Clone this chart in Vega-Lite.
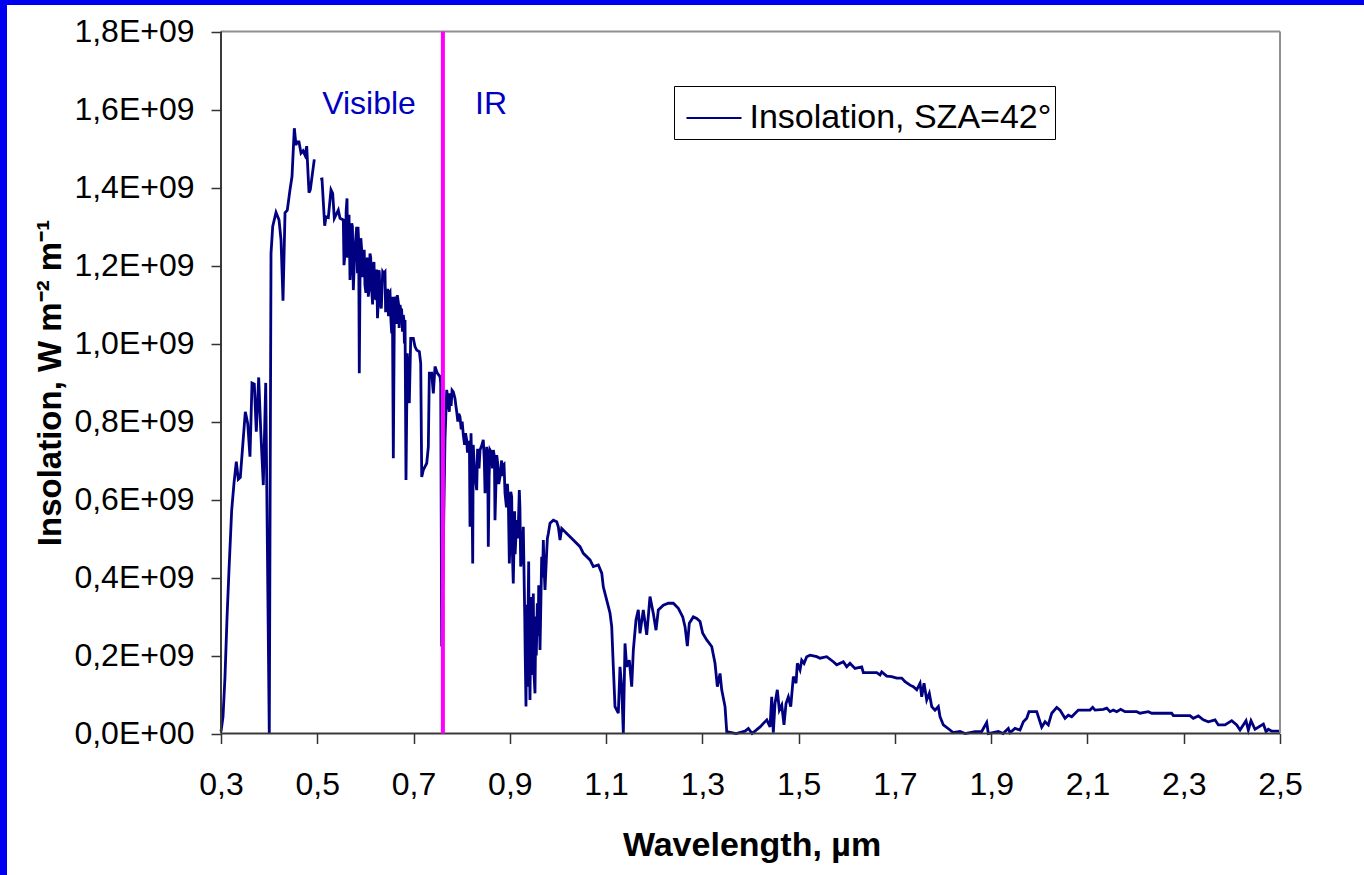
{
  "$schema": "https://vega.github.io/schema/vega-lite/v6.json",
  "width": 1357,
  "height": 870,
  "autosize": {"type": "none"},
  "padding": {"left": 7, "top": 5, "right": 0, "bottom": 0},
  "background": "#0000F0",
  "config": {
    "view": {"fill": "white", "stroke": null},
    "font": "Liberation Sans"
  },
  "layer": [
    {
      "data": {"values": [
        {"w":0.3000,"v":0.005e9},{"w":0.3042,"v":0.043e9},{"w":0.3083,"v":0.146e9},{"w":0.3125,"v":0.296e9},{"w":0.3166,"v":0.419e9},
        {"w":0.3222,"v":0.573e9},{"w":0.3270,"v":0.642e9},{"w":0.3318,"v":0.697e9},{"w":0.3359,"v":0.652e9},{"w":0.3401,"v":0.657e9},
        {"w":0.3505,"v":0.825e9},{"w":0.3555,"v":0.795e9},{"w":0.3602,"v":0.710e9},{"w":0.3644,"v":0.899e9},{"w":0.3692,"v":0.896e9},
        {"w":0.3733,"v":0.774e9},{"w":0.3783,"v":0.913e9},{"w":0.3825,"v":0.778e9},{"w":0.3879,"v":0.637e9},{"w":0.3929,"v":0.899e9},
        {"w":0.4003,"v":0},{"w":0.4039,"v":1.231e9},{"w":0.4074,"v":1.300e9},{"w":0.4143,"v":1.336e9},{"w":0.4205,"v":1.317e9},
        {"w":0.4247,"v":1.265e9},{"w":0.4288,"v":1.110e9},{"w":0.4330,"v":1.335e9},{"w":0.4377,"v":1.342e9},{"w":0.4433,"v":1.394e9},
        {"w":0.4475,"v":1.428e9},{"w":0.4523,"v":1.552e9},{"w":0.4558,"v":1.509e9},{"w":0.4585,"v":1.517e9},{"w":0.4620,"v":1.517e9},
        {"w":0.4662,"v":1.488e9},{"w":0.4704,"v":1.494e9},{"w":0.4745,"v":1.483e9},{"w":0.4780,"v":1.506e9},{"w":0.4828,"v":1.387e9},
        {"w":0.4855,"v":1.394e9},{"w":0.4938,"v":1.472e9},{"w":0.5000,"v":null},{"w":0.5063,"v":1.421e9},{"w":0.5098,"v":1.422e9},
        {"w":0.5154,"v":1.302e9},{"w":0.5181,"v":1.325e9},{"w":0.5229,"v":1.323e9},{"w":0.5285,"v":1.394e9},{"w":0.5320,"v":1.385e9},
        {"w":0.5354,"v":1.321e9},{"w":0.5437,"v":1.342e9},{"w":0.5472,"v":1.321e9},{"w":0.5541,"v":1.317e9},{"w":0.5555,"v":1.201e9},
        {"w":0.5618,"v":1.372e9},{"w":0.5645,"v":1.308e9},{"w":0.5680,"v":1.163e9},{"w":0.5715,"v":1.308e9},{"w":0.5749,"v":1.137e9},
        {"w":0.5784,"v":1.248e9},{"w":0.5819,"v":1.299e9},{"w":0.5846,"v":1.299e9},{"w":0.5873,"v":0.924e9},{"w":0.5923,"v":1.240e9},
        {"w":0.5956,"v":1.231e9},{"w":0.5990,"v":1.150e9},{"w":0.6027,"v":1.214e9},{"w":0.6060,"v":1.120e9},{"w":0.6095,"v":1.231e9},
        {"w":0.6130,"v":1.137e9},{"w":0.6178,"v":1.209e9},{"w":0.6220,"v":1.112e9},{"w":0.6251,"v":1.065e9},{"w":0.6282,"v":1.188e9},
        {"w":0.6303,"v":1.107e9},{"w":0.6359,"v":1.184e9},{"w":0.6407,"v":1.184e9},{"w":0.6442,"v":1.133e9},{"w":0.6511,"v":1.133e9},
        {"w":0.6546,"v":1.026e9},{"w":0.6580,"v":0.706e9},{"w":0.6615,"v":1.120e9},{"w":0.6663,"v":1.124e9},{"w":0.6719,"v":1.099e9},
        {"w":0.6754,"v":1.082e9},{"w":0.6787,"v":1.073e9},{"w":0.6823,"v":1.060e9},{"w":0.6843,"v":0.650e9},{"w":0.6870,"v":0.975e9},
        {"w":0.6912,"v":0.847e9},{"w":0.6941,"v":1.013e9},{"w":0.6995,"v":1.013e9},{"w":0.7030,"v":0.992e9},{"w":0.7066,"v":0.983e9},
        {"w":0.7120,"v":0.979e9},{"w":0.7149,"v":0.949e9},{"w":0.7170,"v":0.658e9},{"w":0.7203,"v":0.676e9},{"w":0.7274,"v":0.693e9},
        {"w":0.7307,"v":0.735e9},{"w":0.7328,"v":0.924e9},{"w":0.7377,"v":0.924e9},{"w":0.7411,"v":0.872e9},{"w":0.7446,"v":0.941e9},
        {"w":0.7493,"v":0.924e9},{"w":0.7550,"v":0.915e9},{"w":0.7564,"v":0.898e9},{"w":0.7585,"v":0.223e9},{"w":0.7653,"v":0.753e9},
        {"w":0.7689,"v":0.881e9},{"w":0.7743,"v":0.825e9},{"w":0.7757,"v":0.872e9},{"w":0.7826,"v":0.876e9},{"w":0.7861,"v":0.859e9},
        {"w":0.7897,"v":0.825e9},{"w":0.7965,"v":0.812e9},{"w":0.8034,"v":0.765e9},{"w":0.8104,"v":0.753e9},{"w":0.8138,"v":0.744e9},
        {"w":0.8173,"v":0.530e9},{"w":0.8194,"v":0.770e9},{"w":0.8229,"v":0.436e9},{"w":0.8256,"v":0.701e9},{"w":0.8312,"v":0.624e9},
        {"w":0.8345,"v":0.701e9},{"w":0.8381,"v":0.727e9},{"w":0.8449,"v":0.753e9},{"w":0.8485,"v":0.616e9},{"w":0.8520,"v":0.735e9},
        {"w":0.8553,"v":0.479e9},{"w":0.8589,"v":0.727e9},{"w":0.8657,"v":0.727e9},{"w":0.8692,"v":0.547e9},{"w":0.8728,"v":0.714e9},
        {"w":0.8796,"v":0.658e9},{"w":0.8865,"v":0.688e9},{"w":0.8900,"v":0.616e9},{"w":0.8969,"v":0.599e9},{"w":0.8990,"v":0.436e9},
        {"w":0.9039,"v":0.607e9},{"w":0.9072,"v":0.385e9},{"w":0.9143,"v":0.547e9},{"w":0.9197,"v":0.624e9},{"w":0.9226,"v":0.428e9},
        {"w":0.9280,"v":0.530e9},{"w":0.9336,"v":0.069e9},{"w":0.9392,"v":0.441e9},{"w":0.9419,"v":0.086e9},{"w":0.9488,"v":0.359e9},
        {"w":0.9523,"v":0.103e9},{"w":0.9571,"v":0.334e9},{"w":0.9627,"v":0.214e9},{"w":0.9662,"v":0.453e9},{"w":0.9696,"v":0.496e9},
        {"w":0.9731,"v":0.368e9},{"w":0.9800,"v":0.513e9},{"w":0.9835,"v":0.539e9},{"w":0.9904,"v":0.547e9},{"w":0.9974,"v":0.543e9},
        {"w":1.0008,"v":0.530e9},{"w":1.0043,"v":0.496e9},{"w":1.0078,"v":0.526e9},{"w":1.0182,"v":0.513e9},{"w":1.0319,"v":0.496e9},
        {"w":1.0458,"v":0.479e9},{"w":1.0527,"v":0.462e9},{"w":1.0666,"v":0.445e9},{"w":1.0735,"v":0.428e9},{"w":1.0839,"v":0.432e9},
        {"w":1.0910,"v":0.411e9},{"w":1.0942,"v":0.376e9},{"w":1.1013,"v":0.342e9},{"w":1.1081,"v":0.309e9},{"w":1.1117,"v":0.274e9},
        {"w":1.1150,"v":0.171e9},{"w":1.1185,"v":0.069e9},{"w":1.1254,"v":0.052e9},{"w":1.1289,"v":0.171e9},{"w":1.1324,"v":0.120e9},
        {"w":1.1358,"v":0},{"w":1.1393,"v":0.231e9},{"w":1.1428,"v":0.171e9},{"w":1.1482,"v":0.188e9},{"w":1.1532,"v":0.120e9},
        {"w":1.1566,"v":0.214e9},{"w":1.1621,"v":0.291e9},{"w":1.1669,"v":0.317e9},{"w":1.1705,"v":0.257e9},{"w":1.1773,"v":0.317e9},
        {"w":1.1844,"v":0.253e9},{"w":1.1912,"v":0.351e9},{"w":1.1981,"v":0.308e9},{"w":1.2037,"v":0.265e9},{"w":1.2085,"v":0.317e9},
        {"w":1.2189,"v":0.329e9},{"w":1.2293,"v":0.334e9},{"w":1.2397,"v":0.334e9},{"w":1.2501,"v":0.321e9},{"w":1.2592,"v":0.299e9},
        {"w":1.2640,"v":0.274e9},{"w":1.2688,"v":0.224e9},{"w":1.2729,"v":0.283e9},{"w":1.2812,"v":0.299e9},{"w":1.2883,"v":0.295e9},
        {"w":1.2952,"v":0.287e9},{"w":1.3007,"v":0.257e9},{"w":1.3091,"v":0.240e9},{"w":1.3194,"v":0.223e9},{"w":1.3263,"v":0.180e9},
        {"w":1.3311,"v":0.120e9},{"w":1.3367,"v":0.154e9},{"w":1.3402,"v":0.112e9},{"w":1.3471,"v":0.069e9},{"w":1.3506,"v":0.005e9},
        {"w":1.3700,"v":0},{"w":1.3887,"v":0.006e9},{"w":1.3956,"v":0.013e9},{"w":1.4033,"v":0},{"w":1.4199,"v":0.017e9},
        {"w":1.4268,"v":0.026e9},{"w":1.4339,"v":0.035e9},{"w":1.4406,"v":0.017e9},{"w":1.4441,"v":0.094e9},{"w":1.4474,"v":0.002e9},
        {"w":1.4509,"v":0.077e9},{"w":1.4557,"v":0.112e9},{"w":1.4599,"v":0.060e9},{"w":1.4649,"v":0.073e9},{"w":1.4696,"v":0.022e9},
        {"w":1.4738,"v":0.077e9},{"w":1.4786,"v":0.094e9},{"w":1.4836,"v":0.069e9},{"w":1.4890,"v":0.146e9},{"w":1.4946,"v":0.129e9},
        {"w":1.4973,"v":0.180e9},{"w":1.5029,"v":0.163e9},{"w":1.5064,"v":0.188e9},{"w":1.5112,"v":0.180e9},{"w":1.5168,"v":0.197e9},
        {"w":1.5237,"v":0.201e9},{"w":1.5305,"v":0.199e9},{"w":1.5376,"v":0.197e9},{"w":1.5444,"v":0.193e9},{"w":1.5583,"v":0.197e9},
        {"w":1.5721,"v":0.184e9},{"w":1.5791,"v":0.176e9},{"w":1.5929,"v":0.184e9},{"w":1.5999,"v":0.171e9},{"w":1.6067,"v":0.180e9},
        {"w":1.6171,"v":0.167e9},{"w":1.6310,"v":0.171e9},{"w":1.6344,"v":0.156e9},{"w":1.6622,"v":0.156e9},{"w":1.6691,"v":0.150e9},
        {"w":1.6726,"v":0.158e9},{"w":1.6830,"v":0.147e9},{"w":1.6934,"v":0.146e9},{"w":1.7038,"v":0.142e9},{"w":1.7142,"v":0.142e9},
        {"w":1.7211,"v":0.133e9},{"w":1.7315,"v":0.124e9},{"w":1.7383,"v":0.120e9},{"w":1.7454,"v":0.112e9},{"w":1.7522,"v":0.129e9},
        {"w":1.7557,"v":0.094e9},{"w":1.7605,"v":0.129e9},{"w":1.7661,"v":0.086e9},{"w":1.7715,"v":0.103e9},{"w":1.7765,"v":0.069e9},
        {"w":1.7833,"v":0.060e9},{"w":1.7902,"v":0.069e9},{"w":1.7937,"v":0.043e9},{"w":1.8006,"v":0.022e9},{"w":1.8145,"v":0.009e9},
        {"w":1.8214,"v":0.002e9},{"w":1.8353,"v":0.005e9},{"w":1.8457,"v":0},{"w":1.8665,"v":0.005e9},{"w":1.8803,"v":0.005e9},
        {"w":1.8907,"v":0.028e9},{"w":1.8941,"v":0},{"w":1.9149,"v":0.005e9},{"w":1.9246,"v":0},{"w":1.9356,"v":0.013e9},
        {"w":1.9391,"v":0.002e9},{"w":1.9495,"v":0.013e9},{"w":1.9599,"v":0.009e9},{"w":1.9668,"v":0.030e9},{"w":1.9739,"v":0.039e9},
        {"w":1.9786,"v":0.056e9},{"w":1.9946,"v":0.056e9},{"w":2.0050,"v":0.016e9},{"w":2.0119,"v":0.030e9},{"w":2.0187,"v":0.022e9},
        {"w":2.0258,"v":0.052e9},{"w":2.0362,"v":0.067e9},{"w":2.0430,"v":0.060e9},{"w":2.0534,"v":0.039e9},{"w":2.0603,"v":0.047e9},
        {"w":2.0673,"v":0.043e9},{"w":2.0810,"v":0.060e9},{"w":2.1053,"v":0.060e9},{"w":2.1109,"v":0.067e9},{"w":2.1157,"v":0.060e9},
        {"w":2.1330,"v":0.062e9},{"w":2.1400,"v":0.065e9},{"w":2.1469,"v":0.056e9},{"w":2.1538,"v":0.060e9},{"w":2.1608,"v":0.056e9},
        {"w":2.1691,"v":0.062e9},{"w":2.1780,"v":0.056e9},{"w":2.2023,"v":0.056e9},{"w":2.2092,"v":0.052e9},{"w":2.2264,"v":0.056e9},
        {"w":2.2335,"v":0.052e9},{"w":2.2750,"v":0.052e9},{"w":2.2783,"v":0.046e9},{"w":2.3130,"v":0.046e9},{"w":2.3199,"v":0.039e9},
        {"w":2.3303,"v":0.045e9},{"w":2.3407,"v":0.035e9},{"w":2.3510,"v":0.030e9},{"w":2.3650,"v":0.035e9},{"w":2.3718,"v":0.022e9},
        {"w":2.3858,"v":0.022e9},{"w":2.3997,"v":0.033e9},{"w":2.4101,"v":0.022e9},{"w":2.4170,"v":0.009e9},{"w":2.4294,"v":0.033e9},
        {"w":2.4342,"v":0.009e9},{"w":2.4398,"v":0.033e9},{"w":2.4481,"v":0.011e9},{"w":2.4655,"v":0.024e9},{"w":2.4710,"v":0.005e9},
        {"w":2.4758,"v":0.011e9},{"w":2.4828,"v":0.006e9},{"w":2.5000,"v":0.006e9},
        {"w":0.5590,"v":1.25e9},{"w":0.5600,"v":1.34e9},{"w":0.5630,"v":1.22e9},{"w":0.5660,"v":1.33e9},{"w":0.5695,"v":1.20e9},
        {"w":0.5730,"v":1.30e9},{"w":0.5765,"v":1.19e9},{"w":0.5800,"v":1.27e9},{"w":0.5835,"v":1.18e9},{"w":0.5860,"v":1.26e9},
        {"w":0.5890,"v":1.20e9},{"w":0.5905,"v":1.27e9},{"w":0.5940,"v":1.17e9},{"w":0.5975,"v":1.24e9},{"w":0.6010,"v":1.13e9},
        {"w":0.6045,"v":1.22e9},{"w":0.6075,"v":1.14e9},{"w":0.6110,"v":1.22e9},{"w":0.6150,"v":1.10e9},{"w":0.6160,"v":1.20e9},
        {"w":0.6195,"v":1.12e9},{"w":0.6235,"v":1.19e9},{"w":0.6265,"v":1.10e9},{"w":0.6290,"v":1.18e9},{"w":0.6330,"v":1.09e9},
        {"w":0.6380,"v":1.18e9},{"w":0.6420,"v":1.08e9},{"w":0.6460,"v":1.14e9},{"w":0.6480,"v":1.07e9},{"w":0.6495,"v":1.13e9},
        {"w":0.6530,"v":1.06e9},{"w":0.6560,"v":1.12e9},{"w":0.6600,"v":1.06e9},{"w":0.6640,"v":1.11e9},{"w":0.6650,"v":1.05e9},
        {"w":0.6690,"v":1.10e9},{"w":0.6700,"v":1.04e9},{"w":0.6740,"v":1.08e9},{"w":0.6770,"v":1.03e9},{"w":0.6800,"v":1.06e9},
        {"w":0.6810,"v":1.00e9},
        {"w":0.7780,"v":0.84e9},{"w":0.7800,"v":0.88e9},{"w":0.7880,"v":0.84e9},{"w":0.7920,"v":0.80e9},{"w":0.7940,"v":0.82e9},
        {"w":0.7990,"v":0.78e9},{"w":0.8010,"v":0.80e9},{"w":0.8060,"v":0.74e9},{"w":0.8080,"v":0.77e9},{"w":0.8120,"v":0.72e9},
        {"w":0.8160,"v":0.75e9},{"w":0.8210,"v":0.68e9},{"w":0.8240,"v":0.74e9},{"w":0.8280,"v":0.66e9},{"w":0.8330,"v":0.73e9},
        {"w":0.8360,"v":0.68e9},{"w":0.8420,"v":0.74e9},{"w":0.8470,"v":0.70e9},{"w":0.8540,"v":0.72e9},{"w":0.8570,"v":0.66e9},
        {"w":0.8620,"v":0.72e9},{"w":0.8640,"v":0.68e9},{"w":0.8680,"v":0.71e9},{"w":0.8750,"v":0.69e9},{"w":0.8770,"v":0.64e9},
        {"w":0.8830,"v":0.70e9},{"w":0.8850,"v":0.66e9},{"w":0.8880,"v":0.69e9},{"w":0.8930,"v":0.58e9},{"w":0.8950,"v":0.64e9},
        {"w":0.9010,"v":0.52e9},{"w":0.9020,"v":0.62e9},{"w":0.9050,"v":0.48e9},{"w":0.9100,"v":0.57e9},{"w":0.9110,"v":0.46e9},
        {"w":0.9170,"v":0.50e9},{"w":0.9210,"v":0.58e9},{"w":0.9250,"v":0.45e9},
        {"w":0.9310,"v":0.30e9},{"w":0.9320,"v":0.20e9},{"w":0.9350,"v":0.33e9},{"w":0.9360,"v":0.12e9},{"w":0.9400,"v":0.25e9},
        {"w":0.9440,"v":0.35e9},{"w":0.9450,"v":0.15e9},{"w":0.9470,"v":0.28e9},{"w":0.9500,"v":0.16e9},{"w":0.9540,"v":0.30e9},
        {"w":0.9550,"v":0.20e9},{"w":0.9590,"v":0.25e9},{"w":0.9600,"v":0.38e9},{"w":0.9640,"v":0.30e9},{"w":0.9680,"v":0.40e9},
        {"w":0.9710,"v":0.43e9},{"w":0.9760,"v":0.45e9},{"w":0.9780,"v":0.50e9}
      ]},
      "mark": {"type": "line", "strokeWidth": 2.8, "invalid": "break-paths-filter-domains"},
      "encoding": {
        "x": {
          "field": "w", "type": "quantitative",
          "scale": {"domain": [-0.14458, 2.67451], "nice": false, "zero": false},
          "axis": {
            "orient": "bottom", "offset": -141.5, "zindex": 2,
            "values": [0.3, 0.5, 0.7, 0.9, 1.1, 1.3, 1.5, 1.7, 1.9, 2.1, 2.3, 2.5],
            "labelExpr": "replace(format(datum.value, '.1f'), '.', ',')",
            "domain": false, "grid": false,
            "tickSize": 10, "tickColor": "#333333", "tickWidth": 1.5,
            "labelFontSize": 32, "labelColor": "black", "labelPadding": 26, "labelFont": "Liberation Sans",
            "title": "Wavelength, µm", "titleFontSize": 34, "titleFontWeight": "bold", "titleColor": "black",
            "titleFont": "Liberation Sans", "titleX": 744.5, "titleY": 121.5, "titleBaseline": "alphabetic", "titleAlign": "center"
          }
        },
        "y": {
          "field": "v", "type": "quantitative",
          "scale": {"domain": [-362800000, 1867950000], "nice": false, "zero": false},
          "axis": {
            "orient": "left", "offset": -214, "zindex": 2,
            "values": [0, 200000000, 400000000, 600000000, 800000000, 1000000000, 1200000000, 1400000000, 1600000000, 1800000000],
            "labelExpr": "datum.value == 0 ? '0,0E+00' : replace(format(datum.value / 1e9, '.1f'), '.', ',') + 'E+09'",
            "domain": false, "grid": false,
            "tickSize": 10, "tickColor": "#333333", "tickWidth": 1.5,
            "labelFontSize": 32, "labelColor": "black", "labelPadding": 17, "labelFont": "Liberation Sans",
            "title": "Insolation, W m⁻² m⁻¹", "titleFontSize": 33, "titleFontWeight": "bold", "titleColor": "black",
            "titleFont": "Liberation Sans", "titleX": -161, "titleY": 377.5, "titleAngle": 270,
            "titleBaseline": "alphabetic", "titleAlign": "center"
          }
        },
        "color": {
          "datum": "Insolation, SZA=42°",
          "scale": {"range": ["#000080"]},
          "legend": {
            "orient": "none", "legendX": 667, "legendY": 81, "title": null,
            "symbolType": "stroke", "symbolSize": 3025, "symbolStrokeWidth": 2, "symbolOffset": 8,
            "labelFontSize": 34, "labelFont": "Liberation Sans", "labelColor": "black", "labelLimit": 0,
            "strokeColor": "black", "fillColor": "white", "padding": 3.5, "labelOffset": 7
          }
        }
      }
    },
    {
      "data": {"values": [{}]},
      "mark": {"type": "rule", "color": "#909090", "strokeWidth": 2},
      "encoding": {
        "x": {"datum": 0.3, "type": "quantitative"},
        "x2": {"datum": 2.5},
        "y": {"datum": 1800000000, "type": "quantitative"}
      }
    },
    {
      "data": {"values": [{}]},
      "mark": {"type": "rule", "color": "#909090", "strokeWidth": 2},
      "encoding": {
        "x": {"datum": 2.5, "type": "quantitative"},
        "y": {"datum": 0, "type": "quantitative"},
        "y2": {"datum": 1800000000}
      }
    },
    {
      "data": {"values": [{}]},
      "mark": {"type": "rule", "color": "#3a3a3a", "strokeWidth": 2},
      "encoding": {
        "x": {"datum": 0.3, "type": "quantitative"},
        "y": {"datum": 0, "type": "quantitative"},
        "y2": {"datum": 1800000000}
      }
    },
    {
      "data": {"values": [{}]},
      "mark": {"type": "rule", "color": "#3a3a3a", "strokeWidth": 2},
      "encoding": {
        "x": {"datum": 0.3, "type": "quantitative"},
        "x2": {"datum": 2.5},
        "y": {"datum": 0, "type": "quantitative"}
      }
    },
    {
      "data": {"values": [{}]},
      "mark": {"type": "rule", "color": "#FF00FF", "strokeWidth": 4},
      "encoding": {
        "x": {"datum": 0.761, "type": "quantitative"},
        "y": {"datum": 0, "type": "quantitative"},
        "y2": {"datum": 1800000000}
      }
    },
    {
      "data": {"values": [
        {"w": 0.6075, "v": 1614000000, "t": "Visible"},
        {"w": 0.861, "v": 1614000000, "t": "IR"}
      ]},
      "mark": {"type": "text", "fontSize": 32, "color": "#0000C0", "align": "center", "baseline": "middle", "font": "Liberation Sans"},
      "encoding": {
        "x": {"field": "w", "type": "quantitative"},
        "y": {"field": "v", "type": "quantitative"},
        "text": {"field": "t"}
      }
    }
  ]
}
